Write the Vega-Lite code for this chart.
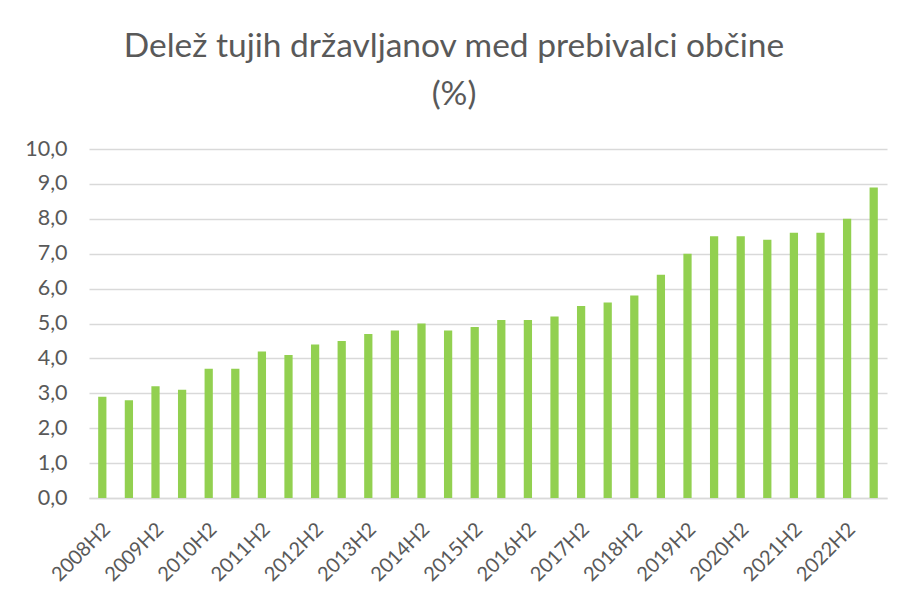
{
  "$schema": "https://vega.github.io/schema/vega-lite/v6.json",
  "width": 798,
  "height": 349,
  "autosize": "none",
  "padding": {"left": 89, "top": 149, "right": 22, "bottom": 100},
  "background": "white",
  "title": {
    "text": ["Delež tujih državljanov med prebivalci občine", "(%)"],
    "font": "Lato",
    "fontSize": 33.5,
    "fontWeight": "normal",
    "color": "#595959",
    "lineHeight": 48,
    "anchor": "middle",
    "frame": "group",
    "dx": -34,
    "offset": 26
  },
  "data": {
    "values": [
      {"period": "2008H2", "share": 2.9},
      {"period": "2009H1", "share": 2.8},
      {"period": "2009H2", "share": 3.2},
      {"period": "2010H1", "share": 3.1},
      {"period": "2010H2", "share": 3.7},
      {"period": "2011H1", "share": 3.7},
      {"period": "2011H2", "share": 4.2},
      {"period": "2012H1", "share": 4.1},
      {"period": "2012H2", "share": 4.4},
      {"period": "2013H1", "share": 4.5},
      {"period": "2013H2", "share": 4.7},
      {"period": "2014H1", "share": 4.8},
      {"period": "2014H2", "share": 5.0},
      {"period": "2015H1", "share": 4.8},
      {"period": "2015H2", "share": 4.9},
      {"period": "2016H1", "share": 5.1},
      {"period": "2016H2", "share": 5.1},
      {"period": "2017H1", "share": 5.2},
      {"period": "2017H2", "share": 5.5},
      {"period": "2018H1", "share": 5.6},
      {"period": "2018H2", "share": 5.8},
      {"period": "2019H1", "share": 6.4},
      {"period": "2019H2", "share": 7.0},
      {"period": "2020H1", "share": 7.5},
      {"period": "2020H2", "share": 7.5},
      {"period": "2021H1", "share": 7.4},
      {"period": "2021H2", "share": 7.6},
      {"period": "2022H1", "share": 7.6},
      {"period": "2022H2", "share": 8.0},
      {"period": "2023H1", "share": 8.9}
    ]
  },
  "mark": {"type": "bar", "color": "#92D050"},
  "encoding": {
    "x": {
      "field": "period",
      "type": "nominal",
      "sort": null,
      "title": null,
      "scale": {"paddingInner": 0.69, "paddingOuter": 0.345},
      "axis": {
        "values": ["2008H2", "2009H2", "2010H2", "2011H2", "2012H2", "2013H2", "2014H2", "2015H2", "2016H2", "2017H2", "2018H2", "2019H2", "2020H2", "2021H2", "2022H2"],
        "labelAngle": -45,
        "labelAlign": "right",
        "labelBaseline": "middle",
        "labelFont": "Lato",
        "labelFontSize": 20,
        "labelColor": "#595959",
        "labelPadding": 28,
        "labelOffset": 5,
        "labelOverlap": false,
        "ticks": false,
        "domainColor": "#D9D9D9",
        "domainWidth": 1.3,
        "grid": false
      }
    },
    "y": {
      "field": "share",
      "type": "quantitative",
      "title": null,
      "scale": {"domain": [0, 10], "nice": false},
      "axis": {
        "values": [0, 1, 2, 3, 4, 5, 6, 7, 8, 9, 10],
        "labelExpr": "replace(format(datum.value, '.1f'), '.', ',')",
        "labelFont": "Lato",
        "labelFontSize": 21.5,
        "labelColor": "#595959",
        "labelPadding": 22,
        "ticks": false,
        "domain": false,
        "grid": true,
        "gridColor": "#D9D9D9",
        "gridWidth": 1.3
      }
    }
  },
  "config": {"view": {"stroke": null}}
}
